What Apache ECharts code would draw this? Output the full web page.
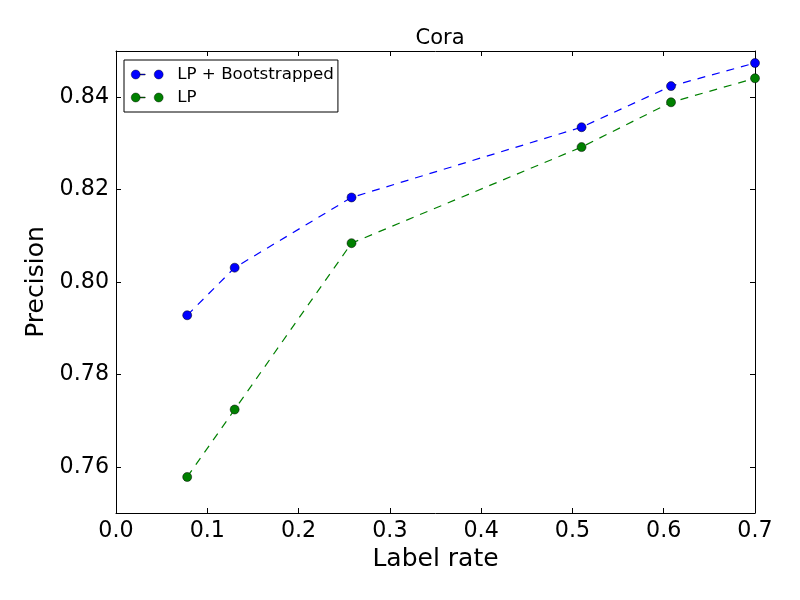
<!DOCTYPE html>
<html>
<head>
<meta charset="utf-8">
<script src="https://cdn.jsdelivr.net/npm/echarts@6/dist/echarts.min.js"></script>
<style>html,body{margin:0;padding:0;background:#fff}#c{width:800px;height:600px}</style>
</head>
<body>
<div id="c"></div>
<script>
const labelRate = [0.078, 0.13, 0.258, 0.51, 0.608, 0.70];
const lpBoot = [0.7928, 0.8031, 0.8183, 0.8335, 0.8424, 0.8474];
const lp = [0.7578, 0.7724, 0.8084, 0.8292, 0.8389, 0.8441];
const xTicks = [0, 0.1, 0.2, 0.3, 0.4, 0.5, 0.6, 0.7];
const yTicks = [0.76, 0.78, 0.80, 0.82, 0.84];

const FONT = 'DejaVu Sans';
const chart = echarts.init(document.getElementById('c'), null, {renderer: 'canvas'});
const legendIcon = 'path://M0,4.5a4.5,4.5 0 1,0 9,0a4.5,4.5 0 1,0 -9,0Z M9,4h5v1h-5Z M23,4.5a4.5,4.5 0 1,0 9,0a4.5,4.5 0 1,0 -9,0Z';

function mk(name, ys, color) {
  return {
    name: name, type: 'line',
    data: labelRate.map((x, i) => [x, ys[i]]),
    symbol: 'circle', symbolSize: 9,
    lineStyle: {color: color, width: 1.2, type: [8, 7]},
    itemStyle: {color: color, borderColor: '#000', borderWidth: 0.5},
    emphasis: {disabled: true},
    animation: false, z: 3, clip: false
  };
}
const tickStyle = {inside: true, length: 5, lineStyle: {color: '#000', width: 1}};
const lineStyle = {show: true, onZero: false, lineStyle: {color: '#000', width: 1}};
chart.setOption({
  backgroundColor: '#fff',
  animation: false,
  title: {text: 'Cora', left: 435, top: 23, textAlign: 'center',
    textStyle: {fontFamily: FONT, fontSize: 21, fontWeight: 'normal', color: '#000'}},
  legend: {
    orient: 'vertical', left: 124, top: 60,
    data: [
      {name: 'LP + Bootstrapped', icon: legendIcon, itemStyle: {borderWidth: 0.4}},
      {name: 'LP', icon: legendIcon, itemStyle: {borderWidth: 0.4}}
    ],
    itemWidth: 32, itemHeight: 9, itemGap: 6,
    padding: [6, 4, 6, 7],
    borderColor: '#000', borderWidth: 1, borderRadius: 0,
    backgroundColor: '#fff',
    textStyle: {fontFamily: FONT, fontSize: 16.7, color: '#000', padding: [0, 0, 0, 9]},
    selectedMode: false
  },
  grid: {left: 116, right: 45, top: 51, bottom: 87, containLabel: false},
  xAxis: [{
    type: 'value', min: 0, max: 0.7, interval: 0.1, position: 'bottom',
    name: 'Label rate', nameLocation: 'middle', nameGap: 34,
    nameTextStyle: {fontFamily: FONT, fontSize: 25, color: '#000'},
    axisLine: lineStyle, axisTick: tickStyle, splitLine: {show: false},
    axisLabel: {fontFamily: FONT, fontSize: 22.2, color: '#000', margin: 7,
      formatter: v => v.toFixed(1), customValues: xTicks},
  }, {
    type: 'value', min: 0, max: 0.7, interval: 0.1, position: 'top',
    axisLine: lineStyle, axisTick: tickStyle, splitLine: {show: false},
    axisLabel: {show: false}
  }],
  yAxis: [{
    type: 'value', min: 0.75, max: 0.85, position: 'left',
    name: 'Precision', nameLocation: 'middle', nameGap: 63,
    nameTextStyle: {fontFamily: FONT, fontSize: 25, color: '#000'},
    axisLine: lineStyle,
    axisTick: Object.assign({customValues: yTicks}, tickStyle),
    splitLine: {show: false},
    axisLabel: {fontFamily: FONT, fontSize: 22.2, color: '#000', margin: 7,
      formatter: v => v.toFixed(2), customValues: yTicks}
  }, {
    type: 'value', min: 0.75, max: 0.85, position: 'right',
    axisLine: lineStyle,
    axisTick: Object.assign({customValues: yTicks}, tickStyle),
    splitLine: {show: false}, axisLabel: {show: false}
  }],
  series: [mk('LP + Bootstrapped', lpBoot, '#0000ff'), mk('LP', lp, '#008000')]
});
</script>
</body>
</html>
